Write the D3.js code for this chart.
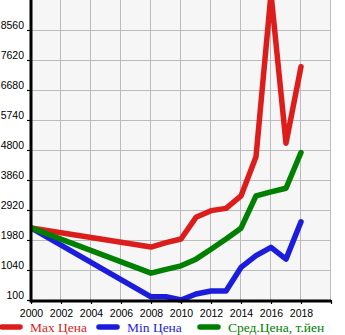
<!DOCTYPE html>
<html><head><meta charset="utf-8">
<script src="https://cdn.jsdelivr.net/npm/d3@7"></script>
<style>body{margin:0;background:#fff}svg{display:block}</style>
</head><body>
<svg id="c" width="345" height="335"></svg>
<script>
const years = [2000, 2008, 2009, 2010, 2011, 2012, 2013, 2014, 2015, 2016, 2017, 2018];
const maxPrice = [2360, 1760, 1900, 2010, 2690, 2900, 2970, 3360, 4590, 9700, 5010, 7410];
const minPrice = [2360, 200, 200, 100, 290, 380, 380, 1120, 1490, 1750, 1380, 2550];
const avgPrice = [2360, 940, 1060, 1170, 1380, 1690, 2010, 2350, 3360, 3490, 3600, 4720];
const yTicks = [100, 1040, 1980, 2920, 3860, 4800, 5740, 6680, 7620, 8560];
const xTicks = [2000, 2002, 2004, 2006, 2008, 2010, 2012, 2014, 2016, 2018];
const seriesNames = ["Max Цена", "Min Цена", "Сред.Цена, т.йен"];
const seriesColors = ["#dd1c1c", "#1c1cdd", "#008000"];

const svg = d3.select("#c");
const L = 31, R = 331, T = 0, B = 300;
const x = d3.scaleLinear().domain([2000, 2020]).range([L, R]);
const y = d3.scaleLinear().domain([100, 9500]).range([B, T]);

svg.append("rect").attr("x", L).attr("y", T).attr("width", R - L).attr("height", B - T).attr("fill", "#f6f6f6");

const g = svg.append("g");
g.selectAll(".gx").data(xTicks.slice(1).concat([2020])).enter().append("line")
  .attr("x1", d => Math.round(x(d)) - 0.5).attr("x2", d => Math.round(x(d)) - 0.5)
  .attr("y1", T).attr("y2", B).attr("stroke", "#bbb").attr("stroke-width", 1);
g.selectAll(".gy").data(yTicks.slice(1)).enter().append("line")
  .attr("x1", L).attr("x2", R - 1)
  .attr("y1", d => Math.round(y(d)) + 0.5).attr("y2", d => Math.round(y(d)) + 0.5)
  .attr("stroke", "#bbb").attr("stroke-width", 1);

svg.append("defs").append("clipPath").attr("id", "pc")
  .append("rect").attr("x", L).attr("y", T).attr("width", R - L).attr("height", B - T + 5);

const line = d3.line().x((d, i) => x(years[i])).y(d => y(d));
const data = [maxPrice, minPrice, avgPrice];
const lg = svg.append("g").attr("clip-path", "url(#pc)");
data.forEach((s, k) => {
  lg.append("path").datum(s).attr("d", line).attr("fill", "none")
    .attr("stroke", seriesColors[k]).attr("stroke-width", 5.5)
    .attr("stroke-linejoin", "round").attr("stroke-linecap", "round");
});

const xAxis = d3.axisBottom(x).tickValues(xTicks.concat([2020])).tickSize(4).tickFormat(d => d === 2020 ? "" : d);
const xa = svg.append("g").attr("transform", `translate(0,${B})`).call(xAxis);
xa.select(".domain").attr("stroke", "#000").attr("stroke-width", 3).attr("d", `M${L},1V1H${R}`);
xa.selectAll(".tick line").attr("stroke", "#000").attr("stroke-width", 1.2);
xa.selectAll("text").attr("font-family", "Liberation Sans, Arial, sans-serif").attr("font-size", 10.5).attr("fill", "#000").attr("dy", "0.95em");

const yAxis = d3.axisLeft(y).tickValues(yTicks).tickSize(4).tickFormat(d3.format("d"));
const ya = svg.append("g").attr("transform", `translate(${L},0)`).call(yAxis);
ya.select(".domain").attr("stroke", "#000").attr("stroke-width", 3).attr("d", `M0,${T}V${B + 2.5}`);
ya.selectAll(".tick line").attr("stroke", "#000").attr("stroke-width", 1.2);
ya.selectAll("text").attr("font-family", "Liberation Sans, Arial, sans-serif").attr("font-size", 10.5).attr("fill", "#000")
  .attr("x", -7).attr("dy", "-0.1em");

const legX = [0, 97, 198];
const leg = svg.append("g");
seriesNames.forEach((n, k) => {
  leg.append("line").attr("x1", legX[k] + 2).attr("x2", legX[k] + 20).attr("y1", 327).attr("y2", 327)
    .attr("stroke", seriesColors[k]).attr("stroke-width", 5.5).attr("stroke-linecap", "round");
  leg.append("text").attr("x", legX[k] + 30).attr("y", 332).text(n)
    .attr("font-family", "Liberation Serif, Times New Roman, serif").attr("font-size", 13.5).attr("fill", seriesColors[k]);
});
</script>
</body></html>
